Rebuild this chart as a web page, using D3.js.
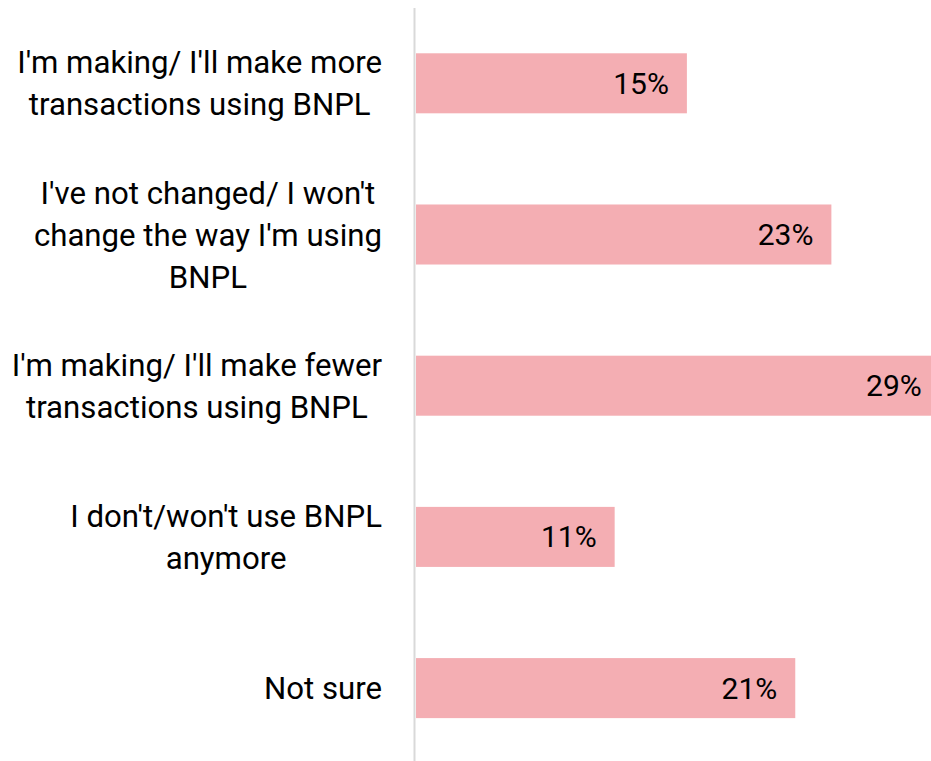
<!DOCTYPE html>
<html>
<head>
<meta charset="utf-8">
<script src="https://cdn.jsdelivr.net/npm/d3@7"></script>
<style>
  html, body { margin: 0; padding: 0; background: #fff; overflow: hidden; }
  svg { display: block; font-family: Roboto, "Noto Sans", sans-serif; }
</style>
</head>
<body>
<svg id="chart" width="931" height="761"></svg>
<script>
// Survey responses: how BNPL usage is changing
const categories = [
  ["I'm making/ I'll make more", "transactions using BNPL"],
  ["I've not changed/ I won't", "change the way I'm using", "BNPL"],
  ["I'm making/ I'll make fewer", "transactions using BNPL"],
  ["I don't/won't use BNPL", "anymore"],
  ["Not sure"]
];
const values = [0.15, 0.23, 0.29, 0.11, 0.21];

const svg = d3.select("#chart");
const fontSize = 31.2;
const valueFontSize = 30;
const lineHeight = 42;
const labelRight = 382;

const x = d3.scaleLinear()
  .domain([0, 0.30])
  .range([416, 416 + 30 * 18.06]);

const keys = categories.map((c, i) => i);
const y = d3.scaleBand()
  .domain(keys)
  .range([7.7, 763.7])
  .paddingInner(0.603)
  .paddingOuter(0.3015);

// Bars
svg.append("g")
  .selectAll("rect")
  .data(values)
  .join("rect")
  .attr("x", x(0))
  .attr("y", (d, i) => y(i))
  .attr("width", d => x(d) - x(0))
  .attr("height", y.bandwidth())
  .attr("fill", "#F4AEB3");

// Vertical axis line
svg.append("line")
  .attr("x1", 414.5).attr("x2", 414.5)
  .attr("y1", 8).attr("y2", 761)
  .attr("stroke", "#D9D9D9")
  .attr("stroke-width", 2);

// Category labels: lines centred within a block whose right edge is fixed
const labels = svg.append("g")
  .attr("font-size", fontSize)
  .attr("fill", "#000")
  .attr("text-anchor", "middle");

categories.forEach((lines, i) => {
  const cy = y(i) + y.bandwidth() / 2;
  const t = labels.append("text")
    .attr("dominant-baseline", "central");
  const spans = lines.map((ln, j) => t.append("tspan")
    .attr("y", cy + (j - (lines.length - 1) / 2) * lineHeight)
    .text(ln));
  const maxW = d3.max(spans, s => s.node().getComputedTextLength());
  const cx = labelRight - maxW / 2;
  spans.forEach(s => s.attr("x", cx));
});

// Value labels inside bar ends
const fmt = d3.format(".0%");
svg.append("g")
  .attr("font-size", valueFontSize)
  .attr("fill", "#000")
  .attr("text-anchor", "end")
  .selectAll("text")
  .data(values)
  .join("text")
  .attr("x", d => x(d) - 18)
  .attr("y", (d, i) => y(i) + y.bandwidth() / 2)
  .attr("dominant-baseline", "central")
  .text(d => fmt(d));
</script>
</body>
</html>
